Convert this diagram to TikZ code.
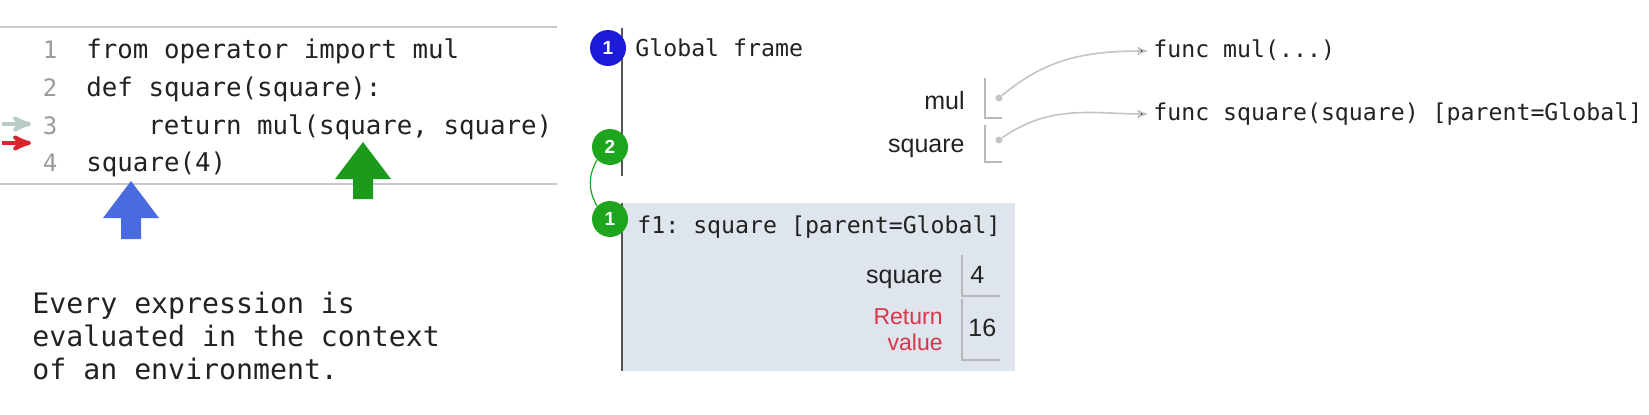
\documentclass[tikz,border=0pt]{standalone}
\usepackage{fontspec}
\setmainfont{Liberation Sans}
\setsansfont{Liberation Sans}
\setmonofont{DejaVu Sans Mono}
\usetikzlibrary{arrows,positioning}

\definecolor{codeblack}{HTML}{222222}
\definecolor{codegray}{HTML}{9A9A9A}
\definecolor{rulegray}{HTML}{C9C9C9}
\definecolor{ptrgray}{HTML}{C4C4C4}
\definecolor{boxgray}{HTML}{B8B8B8}
\definecolor{framegray}{HTML}{555555}
\definecolor{framefill}{HTML}{DEE5ED}
\definecolor{stepblue}{HTML}{1C1CD8}
\definecolor{stepgreen}{HTML}{1EA51E}
\definecolor{arrowblue}{HTML}{4A6BE0}
\definecolor{arrowgreen}{HTML}{1B9A1B}
\definecolor{nextgreen}{HTML}{B7CCC2}
\definecolor{curred}{HTML}{D8262E}
\definecolor{retred}{HTML}{D9364A}

\begin{document}
\begin{tikzpicture}[x=0.5pt, y=-0.5pt, >=stealth',
	code/.style={anchor=west, inner sep=0pt, text height=9.5pt, text depth=3pt, text=codeblack, font=\ttfamily\fontsize{12.9}{15}\selectfont},
	lineno/.style={inner sep=0pt, text height=9.5pt, text depth=3pt, text=codegray, font=\ttfamily\fontsize{12}{14}\selectfont},
	frametext/.style={anchor=west, inner sep=0pt, text height=8.5pt, text depth=2.5pt, text=codeblack, font=\ttfamily\fontsize{11.6}{14}\selectfont},
	varname/.style={anchor=east, inner sep=0pt, text height=9pt, text depth=2.5pt, text=codeblack, font=\sffamily\fontsize{12.5}{15}\selectfont},
	stepmark/.style={circle, inner sep=0pt, minimum size=18pt, text=white, font=\sffamily\bfseries\fontsize{9.5}{10}\selectfont},
	ptrdot/.style={circle, fill=ptrgray, inner sep=0pt, minimum size=3.5pt},
	pointer/.style={->, draw=ptrgray, line width=0.8pt, shorten >=3pt},
	valbox/.style={draw=boxgray, line width=0.6pt}]
	\useasboundingbox (0,0) rectangle (1649,414);

	% Code panel
	\draw [rulegray, line width=0.8pt] (0,27) -- (557,27);
	\draw [rulegray, line width=0.8pt] (0,184) -- (557,184);
	\node [lineno] (num1) at (50,52)  {1};
	\node [lineno] (num2) at (50,90)  {2};
	\node [lineno] (num3) at (50,128) {3};
	\node [lineno] (num4) at (50,165) {4};
	\node [code] (line1) at (86,52)  {from operator import mul};
	\node [code] (line2) at (86,90)  {def square(square):};
	\node [code] (line3) at (148,128) {return mul(square, square)};
	\node [code] (line4) at (86,165) {square(4)};

	% Line markers
	\draw [->, nextgreen, line width=2pt] (2,124) -- (31,124);
	\draw [->, curred, line width=2pt] (2,143) -- (31,143);

	% Big arrows
	\fill [arrowblue]  (131,181) -- (159,218) -- (141,218) -- (141,239) -- (121,239) -- (121,218) -- (103,218) -- cycle;
	\fill [arrowgreen] (363,142) -- (391,179) -- (373,179) -- (373,199) -- (353,199) -- (353,179) -- (335,179) -- cycle;

	% Note
	\node [anchor=north west, inner sep=0pt, align=left, text=codeblack, font=\ttfamily\fontsize{14.1}{16.5}\selectfont] (note) at (32,292)
		{Every expression is\\evaluated in the context\\of an environment.};

	% Global frame
	\draw [framegray, line width=1.2pt] (622,28) -- (622,176);
	\node [stepmark, fill=stepblue]  (g1) at (608,48)  {1};
	\node [stepmark, fill=stepgreen] (g2) at (610,147) {2};
	\node [frametext] (gtitle) at (635,50) {Global frame};
	\node [varname] (mul) at (965,103) {mul};
	\node [varname] (sq)  at (965,146) {square};
	\draw [valbox] (985,78) -- (985,118) -- (1002,118);
	\draw [valbox] (985,125) -- (985,162) -- (1002,162);
	\node [ptrdot] (mulptr) at (999,98) {};
	\node [ptrdot] (sqptr)  at (999,140) {};

	% Heap
	\node [frametext] (funcmul) at (1153,51)  {func mul(...)};
	\node [frametext] (funcsq)  at (1153,114) {func square(square) [parent=Global]};

	% f1 frame
	\fill [framefill] (623,203) rectangle (1015,371);
	\draw [framegray, line width=1.2pt] (622,203) -- (622,371);
	\node [stepmark, fill=stepgreen] (f1) at (610,219) {1};
	\node [frametext] (ftitle) at (637,227) {f1: square [parent=Global]};
	\node [varname] (fsq) at (943,277) {square};
	\node [varname, text=retred, align=right, text height=, text depth=, font=\sffamily\fontsize{11.5}{13}\selectfont] (ret) at (943,330) {Return\\value};
	\draw [valbox] (962,255) -- (962,296) -- (1000,296);
	\draw [valbox] (962,299) -- (962,360) -- (1000,360);
	\node [varname, anchor=west] (fsqval) at (970,277) {4};
	\node [varname, anchor=west] (retval) at (968,330) {16};

	% Paths
	\path [pointer] (mulptr) edge [out=40, in=180] (funcmul.west)
	                (sqptr)  edge [out=35, in=180] (funcsq.west);
	\draw [stepgreen, line width=0.6pt] (g2.south west) to [out=240, in=120] (f1.north west);
\end{tikzpicture}
\end{document}
